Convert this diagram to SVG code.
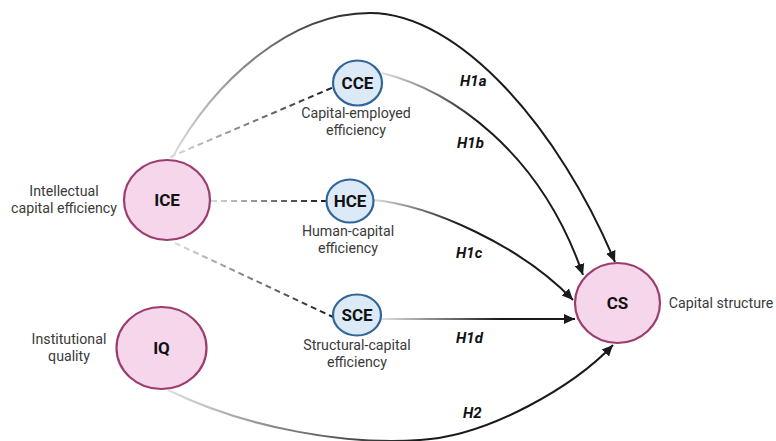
<svg xmlns="http://www.w3.org/2000/svg" width="776" height="441" viewBox="0 0 776 441">
<style>
.big{fill:#f6d6ea;stroke:#9b3d6f;stroke-width:2.2}
.small{fill:#dceaf8;stroke:#2f6597;stroke-width:2.2}
.nl{font-family:Roboto,"Liberation Sans",sans-serif;font-weight:bold;fill:#111;text-anchor:middle}
.lbl{font-family:Roboto,"Liberation Sans",sans-serif;font-size:14.2px;fill:#3a3a3a;text-anchor:middle}
.h{font-family:Roboto,"Liberation Sans",sans-serif;font-size:15px;font-weight:bold;font-style:italic;fill:#111}
.c{fill:none;stroke-width:2}
.d{fill:none;stroke-width:2;stroke-dasharray:6 4}
</style>
<defs>
<marker id="ah" markerWidth="12" markerHeight="12" refX="11" refY="6" orient="auto" markerUnits="userSpaceOnUse">
<path d="M0,1 L11,6 L0,11 Z" fill="#1a1a1a"/>
</marker>
<linearGradient id="g1" gradientUnits="userSpaceOnUse" x1="172" y1="158" x2="380" y2="13"><stop offset="0" stop-color="#e0e0e0"/><stop offset="1" stop-color="#1a1a1a"/></linearGradient>
<linearGradient id="g2" gradientUnits="userSpaceOnUse" x1="382" y1="73" x2="480" y2="115"><stop offset="0" stop-color="#e0e0e0"/><stop offset="1" stop-color="#1a1a1a"/></linearGradient>
<linearGradient id="g3" gradientUnits="userSpaceOnUse" x1="373" y1="200" x2="460" y2="220"><stop offset="0" stop-color="#e0e0e0"/><stop offset="1" stop-color="#1a1a1a"/></linearGradient>
<linearGradient id="g4" gradientUnits="userSpaceOnUse" x1="381" y1="319" x2="500" y2="319"><stop offset="0" stop-color="#e0e0e0"/><stop offset="1" stop-color="#1a1a1a"/></linearGradient>
<linearGradient id="g5" gradientUnits="userSpaceOnUse" x1="168" y1="390" x2="420" y2="440"><stop offset="0" stop-color="#e0e0e0"/><stop offset="1" stop-color="#1a1a1a"/></linearGradient>
<linearGradient id="d1" gradientUnits="userSpaceOnUse" x1="170" y1="157" x2="334" y2="87"><stop offset="0" stop-color="#dddddd"/><stop offset="1" stop-color="#1a1a1a"/></linearGradient>
<linearGradient id="d2" gradientUnits="userSpaceOnUse" x1="210" y1="201" x2="327" y2="201"><stop offset="0" stop-color="#dddddd"/><stop offset="1" stop-color="#1a1a1a"/></linearGradient>
<linearGradient id="d3" gradientUnits="userSpaceOnUse" x1="175" y1="243" x2="333" y2="317"><stop offset="0" stop-color="#dddddd"/><stop offset="1" stop-color="#1a1a1a"/></linearGradient>
</defs>
<rect width="776" height="441" fill="#ffffff"/>
<g id="connectors">
<path class="c" stroke="url(#g1)" d="M172,158 C215,80 290,13 370,13 C460,13 560,130 615,262" marker-end="url(#ah)"/>
<path class="c" stroke="url(#g2)" d="M382,73 C450,90 540,150 583,275" marker-end="url(#ah)"/>
<path class="c" stroke="url(#g3)" d="M373,200 C430,205 520,245 573,300" marker-end="url(#ah)"/>
<path class="c" stroke="url(#g4)" d="M381,319 L575,319" marker-end="url(#ah)"/>
<path class="c" stroke="url(#g5)" d="M168,390 C250,430 350,445 420,440 C490,436 575,385 613,345" marker-end="url(#ah)"/>
<path class="d" stroke="url(#d1)" d="M170,157 L334,87"/>
<path class="d" stroke="url(#d2)" d="M211,201 L327,201"/>
<path class="d" stroke="url(#d3)" d="M175,243 L333,317"/>
<text class="h" x="460" y="86">H1a</text>
<text class="h" x="457" y="148">H1b</text>
<text class="h" x="456" y="258">H1c</text>
<text class="h" x="456" y="343">H1d</text>
<text class="h" x="463" y="418">H2</text>
</g>
<g id="ICE">
<ellipse class="big" cx="167" cy="200" rx="43" ry="40"/>
<text class="nl" x="167" y="206" font-size="17">ICE</text>
<text class="lbl" x="64" y="195.5">Intellectual</text>
<text class="lbl" x="64" y="213">capital efficiency</text>
</g>
<g id="IQ">
<ellipse class="big" cx="161.5" cy="348" rx="45" ry="41"/>
<text class="nl" x="161.5" y="354" font-size="17">IQ</text>
<text class="lbl" x="69" y="343.5">Institutional</text>
<text class="lbl" x="69" y="360.5">quality</text>
</g>
<g id="CCE">
<ellipse class="small" cx="357.5" cy="83" rx="24.5" ry="22.5"/>
<text class="nl" x="357.5" y="89" font-size="17">CCE</text>
<text class="lbl" x="356" y="117.5">Capital-employed</text>
<text class="lbl" x="356" y="134.5">efficiency</text>
</g>
<g id="HCE">
<ellipse class="small" cx="350" cy="201" rx="23.5" ry="21.5"/>
<text class="nl" x="350" y="207" font-size="17">HCE</text>
<text class="lbl" x="348" y="235.5">Human-capital</text>
<text class="lbl" x="348" y="252.5">efficiency</text>
</g>
<g id="SCE">
<ellipse class="small" cx="357" cy="315" rx="24" ry="20.5"/>
<text class="nl" x="357" y="321" font-size="17">SCE</text>
<text class="lbl" x="357" y="349.5">Structural-capital</text>
<text class="lbl" x="357" y="366.5">efficiency</text>
</g>
<g id="CS">
<ellipse class="big" cx="617.5" cy="303" rx="42.5" ry="40"/>
<text class="nl" x="617.5" y="309" font-size="17">CS</text>
<text class="lbl" x="721" y="308">Capital structure</text>
</g>
</svg>
